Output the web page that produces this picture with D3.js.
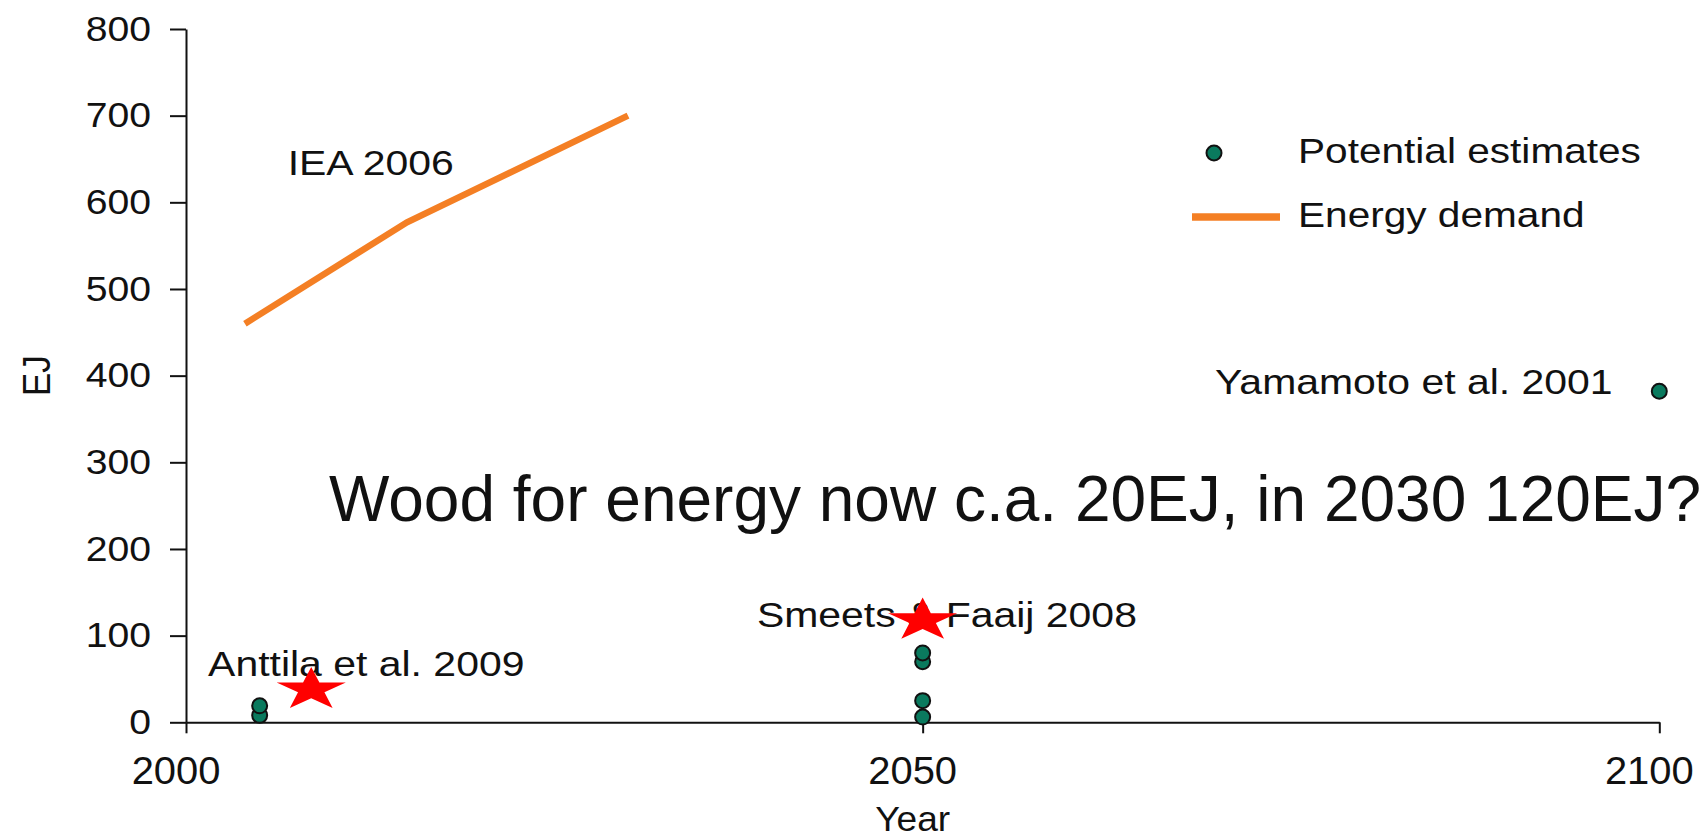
<!DOCTYPE html>
<html>
<head>
<meta charset="utf-8">
<script src="https://cdn.jsdelivr.net/npm/d3@7"></script>
<style>
  body { margin: 0; background: #fff; }
  text { font-family: "Liberation Sans", Arial, sans-serif; fill: #111; }
</style>
</head>
<body>
<script>
// chart size
var w = 1701;
var h = 840;

// axis ticks
var xTicks = [2000, 2050, 2100];
var yTicks = [0, 100, 200, 300, 400, 500, 600, 700, 800];

// IEA 2006 energy demand
var demandYears = [2004, 2015, 2030];
var demandValues = [460, 577, 700];

// potential estimates (green dots)
var estimateYears = [2005, 2005, 2050, 2050, 2050, 2050, 2100];
var estimateValues = [8, 19, 6, 25, 70, 80, 382];

// red stars
var starYears = [2008.5, 2050];
var starValues = [40, 120];

// source labels, placed in data units
var labelTexts = ["IEA 2006", "Anttila et al. 2009", "Smeets & Faaij 2008", "Yamamoto et al. 2001"];
var labelYears = [2006.9, 2001.5, 2038.75, 2069.85];
var labelValues = [631, 54, 109.5, 379];

var legendTexts = ["Potential estimates", "Energy demand"];

// the chart texts look wider than plain Arial
var tickStretch = 1.12;
var xTickStretch = 1.05;
var labelStretch = 1.17;

var svg = d3.select("body")
            .append("svg")
            .attr("width", w)
            .attr("height", h);

var x = d3.scaleLinear()
    .domain([2000, 2100])
    .range([186, 1659.3]);

var y = d3.scaleLinear()
    .domain([0, 800])
    .range([722.3, 29]);

// y axis
var gy = svg.append("g")
    .attr("transform", "translate(" + x(2000) + ",0)")
    .call(d3.axisLeft(y).tickValues(yTicks).tickSize(16).tickSizeOuter(0));
gy.selectAll("text")
    .attr("font-size", 35)
    .attr("x", -35 / tickStretch)
    .attr("transform", "scale(" + tickStretch + ",1)");

// x axis
var gx = svg.append("g")
    .attr("transform", "translate(0," + y(0) + ")")
    .call(d3.axisBottom(x).tickValues(xTicks).tickFormat(d3.format("d")).tickSize(11).tickSizeOuter(0));
gx.selectAll("text")
    .attr("font-size", 38)
    .attr("y", 62)
    .attr("dy", null)
    .attr("x", -10.5 / xTickStretch)
    .attr("transform", "scale(" + xTickStretch + ",1)");

svg.selectAll(".domain, .tick line")
    .attr("stroke", "#111")
    .attr("stroke-width", 2);
svg.selectAll(".tick text").attr("fill", "#111").attr("font-family", "Liberation Sans, Arial, sans-serif");

// axis titles
svg.append("text")
    .attr("transform", "translate(50," + y(400) + ") scale(" + tickStretch + ",1) rotate(-90)")
    .attr("text-anchor", "middle")
    .attr("font-size", 35)
    .text("EJ");

svg.append("text")
    .attr("transform", "translate(" + (x(2050) - 10) + ",831) scale(1.06,1)")
    .attr("text-anchor", "middle")
    .attr("font-size", 35)
    .text("Year");

// energy demand line
var line = d3.line()
    .x(function(d, i) { return x(demandYears[i]); })
    .y(function(d) { return y(d); });

svg.append("path")
    .datum(demandValues)
    .attr("d", line)
    .attr("fill", "none")
    .attr("stroke", "#f47f24")
    .attr("stroke-width", 6.5);

// potential estimate dots
svg.selectAll("circle.est")
    .data(estimateValues)
    .enter()
    .append("circle")
    .attr("class", "est")
    .attr("cx", function(d, i) { return x(estimateYears[i]); })
    .attr("cy", function(d) { return y(d); })
    .attr("r", 7.5)
    .attr("fill", "#0a7a5e")
    .attr("stroke", "#111")
    .attr("stroke-width", 2);

// source labels
svg.selectAll("text.lbl")
    .data(labelTexts)
    .enter()
    .append("text")
    .attr("class", "lbl")
    .attr("transform", function(d, i) {
        return "translate(" + x(labelYears[i]) + "," + y(labelValues[i]) + ") scale(" + labelStretch + ",1)";
    })
    .attr("font-size", 35)
    .text(function(d) { return d; });

// red stars (wide, flat)
var star = d3.symbol().type(d3.symbolStar).size(580);
svg.selectAll("path.star")
    .data(starValues)
    .enter()
    .append("path")
    .attr("class", "star")
    .attr("d", star)
    .attr("transform", function(d, i) {
        return "translate(" + x(starYears[i]) + "," + (y(d) + 2) + ") scale(1.6,1)";
    })
    .attr("fill", "#ff0000");

// legend
var legend = svg.append("g").attr("class", "legend");
legend.append("circle")
    .attr("cx", 1214)
    .attr("cy", 153)
    .attr("r", 7.5)
    .attr("fill", "#0a7a5e")
    .attr("stroke", "#111")
    .attr("stroke-width", 2);
legend.append("line")
    .attr("x1", 1192).attr("x2", 1280)
    .attr("y1", 217).attr("y2", 217)
    .attr("stroke", "#f47f24")
    .attr("stroke-width", 7.5);
legend.selectAll("text")
    .data(legendTexts)
    .enter()
    .append("text")
    .attr("transform", function(d, i) { return "translate(1298," + (163.3 + i * 63.4) + ") scale(1.16,1)"; })
    .attr("font-size", 35)
    .text(function(d) { return d; });

// big overlay note
svg.append("text")
    .attr("x", 329)
    .attr("y", 521)
    .attr("font-size", 64)
    .attr("fill", "#000")
    .text("Wood for energy now c.a. 20EJ, in 2030 120EJ?");
</script>
</body>
</html>
